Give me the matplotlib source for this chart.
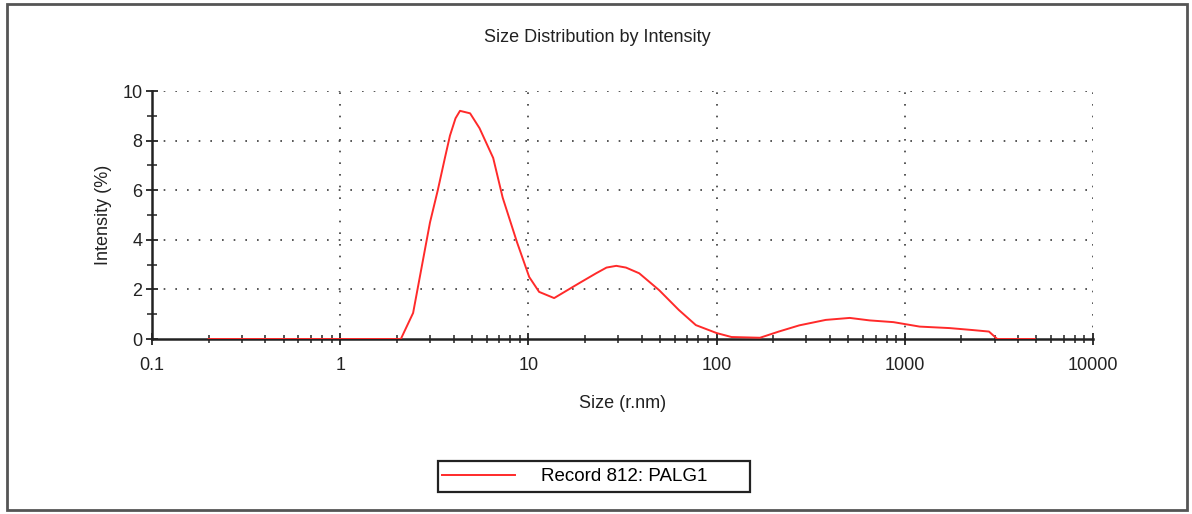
import numpy as np
import matplotlib.pyplot as plt
from matplotlib.patches import Rectangle
from matplotlib.ticker import LogLocator, MultipleLocator, FixedFormatter, FixedLocator

plt.rcParams['font.family'] = ['Liberation Sans', 'DejaVu Sans']

# --- data ---
size_nm = [0.2, 0.5, 1.0, 1.5, 2.1, 2.44, 3.0, 3.3, 3.6, 3.83, 4.1, 4.33, 4.9, 5.5, 6.5, 7.3, 8.7,
           10.1, 11.4, 13.7, 18.6, 22.9, 26.0, 29.3, 33.0, 38.8, 49.5, 63, 77.6, 100, 120, 170,
           214, 275, 380, 510, 650, 870, 1200, 1730, 2300, 2800, 3100, 4900]
intensity = [0, 0, 0, 0, 0, 1.05, 4.7, 6.0, 7.3, 8.2, 8.9, 9.2, 9.1, 8.5, 7.3, 5.7, 3.9,
             2.5, 1.9, 1.65, 2.25, 2.65, 2.88, 2.95, 2.88, 2.65, 1.97, 1.17, 0.56, 0.24, 0.08, 0.05,
             0.3, 0.55, 0.77, 0.85, 0.75, 0.68, 0.5, 0.44, 0.36, 0.3, 0.0, 0.0]

x_ticks = [0.1, 1, 10, 100, 1000, 10000]
x_tick_labels = ['0.1', '1', '10', '100', '1000', '10000']
y_ticks = [0, 2, 4, 6, 8, 10]

series_label = 'Record 812: PALG1'

W, H = 1192, 514
ink = '#222222'
fig = plt.figure(figsize=(W / 100, H / 100), dpi=100)
ax = fig.add_axes([152 / W, 1 - 339 / H, (1093 - 152) / W, (339 - 91) / H])

ax.plot(size_nm, intensity, color='#ff2a2a', linewidth=1.4, label=series_label, zorder=3)

ax.set_xscale('log')
ax.set_xlim(0.1, 10000)
ax.set_ylim(0, 10)

ax.xaxis.set_major_locator(FixedLocator(x_ticks))
ax.xaxis.set_major_formatter(FixedFormatter(x_tick_labels))
ax.xaxis.set_minor_locator(LogLocator(base=10, subs=np.arange(2, 10)))
ax.yaxis.set_major_locator(FixedLocator(y_ticks))
ax.yaxis.set_minor_locator(MultipleLocator(1))

ax.tick_params(axis='both', which='both', direction='inout', color=ink,
               labelsize=13, labelcolor=ink)
ax.tick_params(axis='x', which='major', length=8, width=1.3, pad=9)
ax.tick_params(axis='x', which='minor', length=6, width=1.1)
ax.tick_params(axis='y', which='major', length=8, width=1.3, pad=3)
ax.tick_params(axis='y', which='minor', length=7, width=1.1)

# dotted grid, including the top and right edges
dots = (0, (1, 6))
for yv in y_ticks[1:]:
    ax.axhline(yv, color='#3a3a3a', linewidth=1.2, linestyle=dots, zorder=1)
for xv in x_ticks[1:]:
    ax.axvline(xv, color='#3a3a3a', linewidth=1.2, linestyle=dots, zorder=1)

for s in ['top', 'right']:
    ax.spines[s].set_visible(False)
for s in ['left', 'bottom']:
    ax.spines[s].set_color(ink)
    ax.spines[s].set_linewidth(1.8)

ax.set_xlabel('Size (r.nm)', fontsize=13, color=ink, labelpad=15)
ax.set_ylabel('Intensity (%)', fontsize=13, color=ink, labelpad=7)
fig.text(597 / W, 1 - 38 / H, 'Size Distribution by Intensity', ha='center', va='center',
         fontsize=13, color=ink)

# legend: box drawn separately so it keeps the reference's wide right margin
leg = fig.legend(loc='center left', bbox_to_anchor=(442 / W, 1 - 476.5 / H), fontsize=13.5,
                 frameon=False, handlelength=3.9, handletextpad=1.4,
                 borderpad=0, borderaxespad=0)
fig.patches.append(Rectangle((438 / W, 1 - 492 / H), (750 - 438) / W, (492 - 461) / H,
                             transform=fig.transFigure, fill=False,
                             edgecolor=ink, linewidth=1.6))

# outer frame
fig.patches.append(Rectangle((7 / W, 1 - 510 / H), (1187 - 7) / W, (510 - 4) / H,
                             transform=fig.transFigure, fill=False,
                             edgecolor='#555555', linewidth=2))

fig.savefig('out.png', dpi=100)
